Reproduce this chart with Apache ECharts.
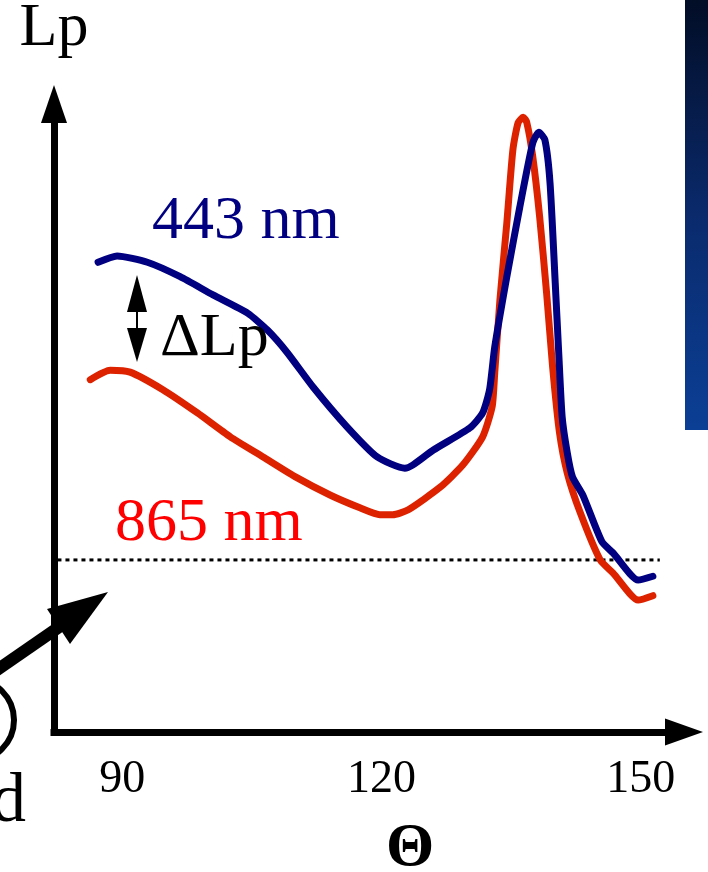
<!DOCTYPE html>
<html>
<head>
<meta charset="utf-8">
<script src="https://cdn.jsdelivr.net/npm/echarts@6/dist/echarts.min.js"></script>
<style>
  html, body { margin: 0; padding: 0; background: #ffffff; }
  #chart { width: 708px; height: 872px; }
</style>
</head>
<body>
<div id="chart"></div>
<script>
// Scattering angle (degrees) and polarized radiance Lp (arbitrary units)
const angle443 = [87.2, 89.4, 92.9, 96.7, 100.5, 104.5, 106.8, 109.1, 112.1, 116.0, 119.5, 122.7, 123.6, 126.0,
  130.2, 131.7, 132.5, 133.1, 134.5, 136.0, 137.5, 138.2, 138.9, 139.5, 140.1, 140.5, 140.9, 141.5,
  142.1, 143.3, 145.5, 146.8, 149.7, 151.4];
const lp443 = [74.8, 75.8, 74.8, 72.5, 69.6, 66.7, 64.0, 60.4, 54.9, 48.6, 43.8, 42.0, 42.5, 44.9,
  48.4, 50.8, 54.5, 61.3, 72.5, 83.6, 93.8, 95.5, 94.3, 87.4, 71.5, 60.5, 50.2, 44.4,
  40.6, 37.7, 30.3, 28.5, 24.2, 24.8];

const angle865 = [86.3, 88.6, 90.9, 94.7, 98.7, 102.5, 106.3, 110.2, 114.1, 117.5, 119.8, 121.3, 123.1, 126.8,
  129.4, 131.7, 132.8, 133.1, 133.7, 134.5, 135.2, 135.8, 136.4, 136.8, 137.5, 138.3, 139.1, 139.8, 140.6,
  141.5, 143.0, 145.3, 146.8, 149.7, 151.4];
const lp865 = [56.1, 57.6, 57.3, 54.5, 50.8, 47.0, 43.8, 40.5, 37.7, 35.7, 34.6, 34.6, 35.4, 39.0,
  42.5, 47.0, 51.8, 57.2, 68.8, 81.1, 92.7, 97.0, 97.9, 97.1, 91.6, 82.0, 69.9, 58.1, 47.6,
  41.2, 34.9, 27.4, 25.3, 21.0, 21.7];

// Dotted reference level
const refAngles = [82.5, 152.2];
const refLevel = 27.4;

const tickLabels = [90, 120, 150];

const pairs = (xs, ys) => xs.map((x, i) => [x, ys[i]]);

const serif = '"Liberation Serif", "Times New Roman", serif';
const navy = '#000080';
const red = '#dd2200';

const chart = echarts.init(document.getElementById('chart'), null, { renderer: 'canvas' });

chart.setOption({
  backgroundColor: '#ffffff',
  animation: false,
  grid: { left: 54, right: 24, top: 104, bottom: 140, outerBoundsMode: 'none', containLabel: false },
  xAxis: {
    type: 'value',
    min: 82.1,
    max: 155,
    name: 'Θ',
    nameLocation: 'middle',
    nameGap: 86,
    nameTextStyle: { fontFamily: serif, fontSize: 62, fontWeight: 'bold', color: '#000', padding: [0, 0, 0, 82] },
    axisLine: {
      show: true,
      symbol: ['none', 'triangle'],
      symbolSize: [27, 38],
      lineStyle: { color: '#000', width: 7, cap: 'square' }
    },
    axisTick: { show: false },
    splitLine: { show: false },
    axisLabel: {
      customValues: tickLabels,
      fontFamily: serif,
      fontSize: 46,
      color: '#000',
      margin: 25
    }
  },
  yAxis: {
    type: 'value',
    min: 0,
    max: 100,
    name: 'Lp',
    nameLocation: 'end',
    nameGap: 44,
    nameTextStyle: { fontFamily: serif, fontSize: 62, color: '#000' },
    axisLine: {
      show: true,
      symbol: ['none', 'triangle'],
      symbolSize: [26, 38],
      lineStyle: { color: '#000', width: 7, cap: 'square' }
    },
    axisTick: { show: false },
    splitLine: { show: false },
    axisLabel: { show: false }
  },
  series: [
    {
      name: 'reference',
      type: 'line',
      data: refAngles.map(x => [x, refLevel]),
      symbol: 'none',
      lineStyle: { color: '#000', width: 3, type: [4, 4] },
      z: 1
    },
    {
      name: '865 nm',
      type: 'line',
      data: pairs(angle865, lp865),
      symbol: 'none',
      smooth: 0.2,
      lineStyle: { color: red, width: 7, cap: 'round', join: 'round' },
      z: 2
    },
    {
      name: '443 nm',
      type: 'line',
      data: pairs(angle443, lp443),
      symbol: 'none',
      smooth: 0.2,
      lineStyle: { color: navy, width: 7, cap: 'round', join: 'round' },
      z: 3
    }
  ],
  graphic: [
    // dark panel at the right edge
    {
      type: 'rect',
      shape: { x: 685, y: 0, width: 23, height: 430 },
      style: {
        fill: new echarts.graphic.LinearGradient(0, 0, 0, 1, [
          { offset: 0, color: '#020d26' },
          { offset: 0.5, color: '#0a2a6c' },
          { offset: 1, color: '#0b3f95' }
        ])
      },
      z: 0
    },
    // curve labels
    {
      type: 'text',
      style: { x: 152, y: 222, text: '443 nm', font: '62px ' + serif, fill: navy, verticalAlign: 'middle' },
      z: 10
    },
    {
      type: 'text',
      style: { x: 115, y: 524, text: '865 nm', font: '62px ' + serif, fill: '#ff0000', verticalAlign: 'middle' },
      z: 10
    },
    {
      type: 'text',
      style: { x: 160, y: 339, text: 'ΔLp', font: '62px ' + serif, fill: '#000', verticalAlign: 'middle' },
      z: 10
    },
    // double-headed arrow for ΔLp
    {
      type: 'line',
      shape: { x1: 137, y1: 300, x2: 137, y2: 340 },
      style: { stroke: '#000', lineWidth: 2 },
      z: 10
    },
    {
      type: 'polygon',
      shape: { points: [[137, 275], [147, 312], [127, 312]] },
      style: { fill: '#000' },
      z: 10
    },
    {
      type: 'polygon',
      shape: { points: [[137, 362], [147, 328], [127, 328]] },
      style: { fill: '#000' },
      z: 10
    },
    // incoming arrow and partial circle at the lower left
    {
      type: 'line',
      shape: { x1: -6, y1: 672, x2: 62, y2: 625 },
      style: { stroke: '#000', lineWidth: 12 },
      z: 10
    },
    {
      type: 'polygon',
      shape: { points: [[108, 592], [47, 609], [70, 644]] },
      style: { fill: '#000' },
      z: 10
    },
    {
      type: 'circle',
      shape: { cx: -27, cy: 720, r: 41 },
      style: { fill: 'none', stroke: '#000', lineWidth: 6 },
      z: 10
    },
    {
      type: 'text',
      style: { x: -9, y: 803, text: 'd', font: '70px ' + serif, fill: '#000', verticalAlign: 'middle' },
      z: 10
    }
  ]
});
</script>
</body>
</html>
